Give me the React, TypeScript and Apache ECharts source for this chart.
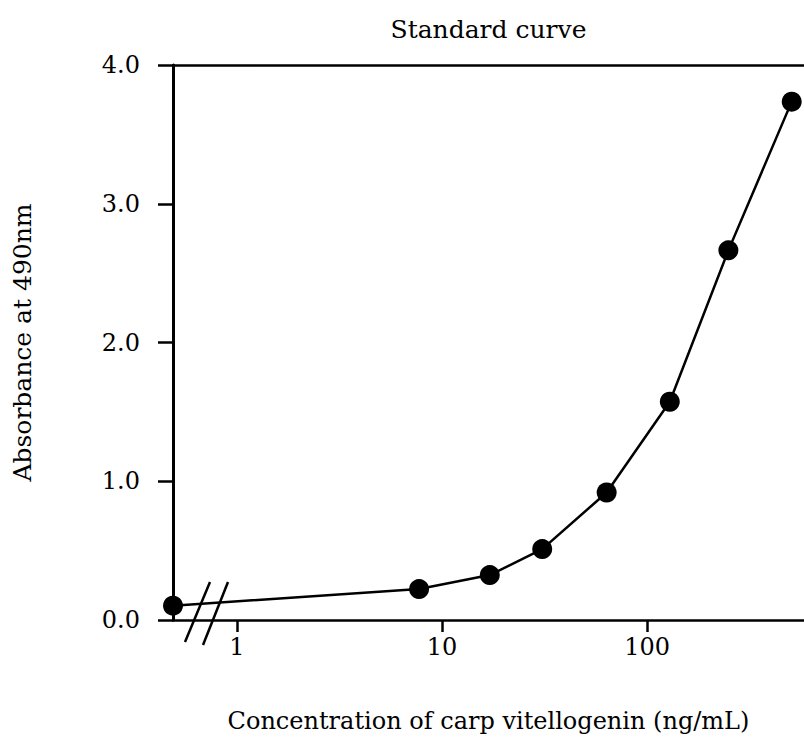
import React, { useEffect, useRef } from "react";
import * as echarts from "echarts";

const concentration = [0.488, 7.73, 17.1, 30.8, 63.5, 129, 249, 507];
const absorbance = [0.103, 0.223, 0.324, 0.511, 0.919, 1.573, 2.664, 3.736];
const xTickValues = [1, 10, 100];
const yTicks = [0, 1, 2, 3, 4];

const X_MIN = 0.488;
const X_MAX = 582;
const FONT = "DejaVu Serif";

const GRID_LEFT = 173;
const GRID_TOP = 65;
const GRID_BOTTOM = 117;
const HEIGHT = 738;

export default function App() {
  const ref = useRef<HTMLDivElement>(null);
  useEffect(() => {
    if (!ref.current) return;
    const chart = echarts.init(ref.current, undefined, { renderer: "svg" });
    const base = HEIGHT - GRID_BOTTOM;
    const brk = (dx1: number, dy1: number, dx2: number, dy2: number) => ({
      type: "line",
      z: 100,
      shape: { x1: GRID_LEFT + dx1, y1: base + dy1, x2: GRID_LEFT + dx2, y2: base + dy2 },
      style: { stroke: "#000", lineWidth: 2.5 },
    });
    chart.setOption({
      animation: false,
      backgroundColor: "#fff",
      textStyle: { fontFamily: FONT, color: "#000" },
      grid: { left: GRID_LEFT, top: GRID_TOP, right: 0, bottom: GRID_BOTTOM },
      xAxis: [
        {
          type: "log",
          logBase: 10,
          min: X_MIN,
          max: X_MAX,
          position: "bottom",
          name: "Concentration of carp vitellogenin (ng/mL)",
          nameLocation: "middle",
          nameGap: 89,
          nameTextStyle: { fontFamily: FONT, fontSize: 24, color: "#000" },
          axisLine: { show: true, lineStyle: { color: "#000", width: 2.5 } },
          axisTick: {
            show: true,
            customValues: xTickValues,
            length: 12,
            lineStyle: { color: "#000", width: 2.5 },
          },
          axisLabel: {
            customValues: xTickValues,
            margin: 15,
            fontFamily: FONT,
            fontSize: 24,
            color: "#000",
            formatter: (v: number) => String(Math.round(v)),
          },
          splitLine: { show: false },
          minorTick: { show: false },
        },
        {
          type: "log",
          logBase: 10,
          min: X_MIN,
          max: X_MAX,
          position: "top",
          name: "Standard curve",
          nameLocation: "middle",
          nameGap: 23,
          nameTextStyle: { fontFamily: FONT, fontSize: 25, color: "#000" },
          axisLine: { show: true, lineStyle: { color: "#000", width: 2.5 } },
          axisTick: { show: false },
          axisLabel: { show: false },
          splitLine: { show: false },
        },
      ],
      yAxis: {
        type: "value",
        min: yTicks[0],
        max: yTicks[yTicks.length - 1],
        interval: 1,
        name: "Absorbance at 490nm",
        nameLocation: "middle",
        nameGap: 138,
        nameTextStyle: { fontFamily: FONT, fontSize: 25, color: "#000" },
        axisLine: { show: true, lineStyle: { color: "#000", width: 3 } },
        axisTick: { show: true, length: 15, lineStyle: { color: "#000", width: 2.5 } },
        axisLabel: {
          margin: 33,
          fontFamily: FONT,
          fontSize: 24,
          color: "#000",
          formatter: (v: number) => v.toFixed(1),
        },
        splitLine: { show: false },
      },
      series: [
        {
          type: "line",
          data: concentration.map((c, i) => [c, absorbance[i]]),
          symbol: "circle",
          symbolSize: 20,
          clip: false,
          lineStyle: { color: "#000", width: 2.5 },
          itemStyle: { color: "#000" },
          z: 10,
        },
      ],
      graphic: [brk(12, 21, 37, -39), brk(30, 24, 55, -39)],
    });
    return () => chart.dispose();
  }, []);
  return (
    <div
      ref={ref}
      style={{ position: "absolute", left: 0, top: 0, width: 804, height: 738 }}
    />
  );
}
